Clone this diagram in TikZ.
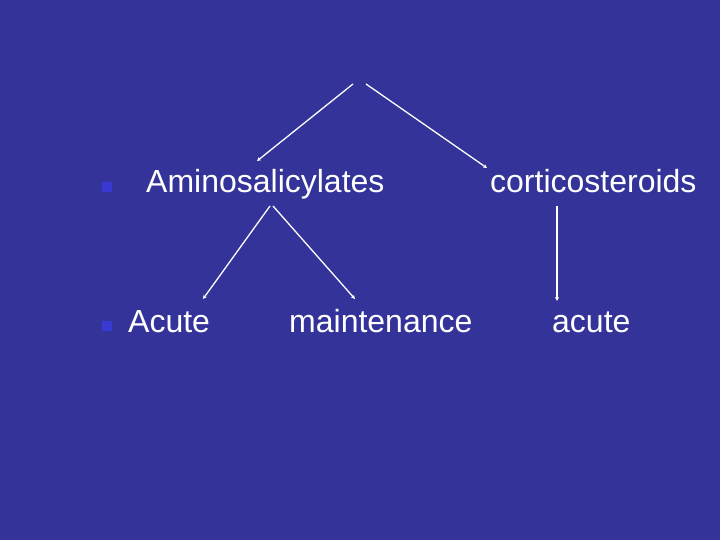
\documentclass[tikz,border=0pt]{standalone}
\usepackage{fontspec}
\setmainfont{Liberation Sans}
\usetikzlibrary{arrows.meta}
\definecolor{bg}{HTML}{333399}
\definecolor{bul}{HTML}{3838D2}
\begin{document}
\begin{tikzpicture}[x=1pt,y=-1pt,
  lbl/.style={anchor=base west,inner sep=0pt,text=white,font=\fontsize{32}{38}\selectfont},
  bullet/.style={fill=bul,draw=none,minimum size=10pt,inner sep=0pt},
  conn/.style={draw=white,line width=1.3pt,-{Stealth[length=4pt,width=4pt]}}]
\fill[bg] (0,0) rectangle (720,540);
\useasboundingbox (0,0) rectangle (720,540);
\node[bullet] (b1) at (107,187) {};
\node[bullet] (b2) at (107,326) {};
\node[lbl] (amino) at (146,193) {Aminosalicylates};
\node[lbl] (cort) at (490,193) {corticosteroids};
\node[lbl] (acute1) at (128,332) {Acute};
\node[lbl] (maint) at (289,332) {maintenance};
\node[lbl] (acute2) at (552,332) {acute};
\coordinate (top1) at (353,84);
\coordinate (top2) at (366,84);
\coordinate (amL) at (270,206);
\coordinate (amR) at (273,206);
\coordinate (coB) at (557,206);
\draw[conn] (top1) -- (257,161);
\draw[conn] (top2) -- (487,168);
\draw[conn] (amL) -- (203,299);
\draw[conn] (amR) -- (355,299);
\draw[conn] (coB) -- (557,301);
\end{tikzpicture}
\end{document}
